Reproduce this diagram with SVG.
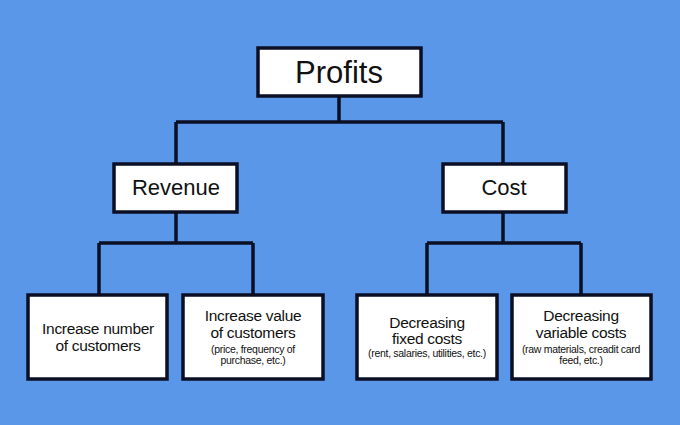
<svg xmlns="http://www.w3.org/2000/svg" width="680" height="425" viewBox="0 0 680 425">
<style>
.box{fill:#ffffff;stroke:#0b0f24;stroke-width:3.5}
.ln{fill:none;stroke:#0b0f24;stroke-width:3.5}
text{font-family:"Liberation Sans",Arial,sans-serif;fill:#111111;text-anchor:middle}
.t1{font-size:31px}
.t2{font-size:22px}
.t3{font-size:15.5px;letter-spacing:-0.3px}
.t4{font-size:10.5px;letter-spacing:-0.3px}
</style>
<rect width="680" height="425" fill="#5b97e8"/>
<g id="connectors">
<path class="ln" d="M339 97 V122 M176 122 H503 M176 122 V163 M503 122 V163"/>
<path class="ln" d="M176 213 V243 M99 243 H253 M99 243 V294 M253 243 V294"/>
<path class="ln" d="M503 213 V243 M427 243 H581 M427 243 V294 M581 243 V294"/>
</g>
<g id="profits">
<rect class="box" x="258" y="48" width="163" height="48"/>
<text class="t1" x="339" y="83">Profits</text>
</g>
<g id="revenue">
<rect class="box" x="114" y="164" width="123" height="48"/>
<text class="t2" x="176" y="195">Revenue</text>
</g>
<g id="cost">
<rect class="box" x="443" y="164" width="123" height="48"/>
<text class="t2" x="504" y="195">Cost</text>
</g>
<g id="increase-number">
<rect class="box" x="28" y="295" width="139" height="84"/>
<text class="t3" x="98" y="334">Increase number</text>
<text class="t3" x="98" y="351">of customers</text>
</g>
<g id="increase-value">
<rect class="box" x="183" y="295" width="140" height="84"/>
<text class="t3" x="253" y="321">Increase value</text>
<text class="t3" x="253" y="338">of customers</text>
<text class="t4" x="253" y="353">(price, frequency of</text>
<text class="t4" x="253" y="364">purchase, etc.)</text>
</g>
<g id="fixed-costs">
<rect class="box" x="357" y="295" width="140" height="84"/>
<text class="t3" x="427" y="328">Decreasing</text>
<text class="t3" x="427" y="344">fixed costs</text>
<text class="t4" x="427" y="357">(rent, salaries, utilities, etc.)</text>
</g>
<g id="variable-costs">
<rect class="box" x="512" y="295" width="139" height="84"/>
<text class="t3" x="581" y="321">Decreasing</text>
<text class="t3" x="581" y="338">variable costs</text>
<text class="t4" x="581" y="353">(raw materials, creadit card</text>
<text class="t4" x="581" y="364">feed, etc.)</text>
</g>
</svg>
